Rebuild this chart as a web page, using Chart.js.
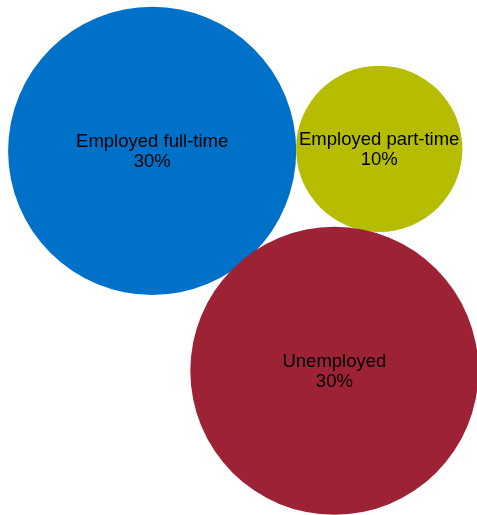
<!DOCTYPE html>
<html>
<head>
<meta charset="utf-8">
<script src="https://cdn.jsdelivr.net/npm/chart.js@4"></script>
<style>
  html, body { margin: 0; padding: 0; background: #fff; }
  canvas { display: block; }
</style>
</head>
<body>
<canvas id="myChart" width="477" height="515"></canvas>
<script>
// groups and their share of the population (%)
const categories = ['Employed full-time', 'Employed part-time', 'Unemployed'];
const shares = [30, 10, 30];
// bubble placement in chart units (0-100 both ways)
const posX = [31.9, 79.5, 70.1];
const posY = [29.3, 28.9, 72.0];
const colors = ['#0071C9', '#B6BD00', '#9D2236'];

// bubble area follows the share
const radiusPerSqrt = 26.3;

const labelPlugin = {
  id: 'bubbleLabels',
  afterDatasetsDraw(chart) {
    const ctx = chart.ctx;
    const meta = chart.getDatasetMeta(0);
    ctx.save();
    ctx.fillStyle = '#000';
    ctx.font = '18.5px "Liberation Sans", Arial, sans-serif';
    ctx.textAlign = 'center';
    ctx.textBaseline = 'alphabetic';
    meta.data.forEach((el, i) => {
      ctx.fillText(categories[i], el.x, el.y - 3.5);
      ctx.fillText(shares[i] + '%', el.x, el.y + 16.5);
    });
    ctx.restore();
  }
};

const chartData = {
  labels: categories,
  datasets: [{
    data: categories.map((c, i) => ({ x: posX[i], y: posY[i] })),
    backgroundColor: colors,
    borderWidth: 0,
    radius: (c) => Math.sqrt(shares[c.dataIndex]) * radiusPerSqrt,
    clip: false
  }]
};

const chart = new Chart('myChart', {
  type: 'bubble',
  data: chartData,
  options: {
    responsive: false,
    animation: false,
    events: [],
    layout: { padding: 0, autoPadding: false },
    plugins: {
      legend: { display: false },
      tooltip: { enabled: false }
    },
    scales: {
      x: { type: 'linear', min: 0, max: 100, display: false },
      y: { type: 'linear', min: 0, max: 100, reverse: true, display: false }
    }
  },
  plugins: [labelPlugin]
});
</script>
</body>
</html>
